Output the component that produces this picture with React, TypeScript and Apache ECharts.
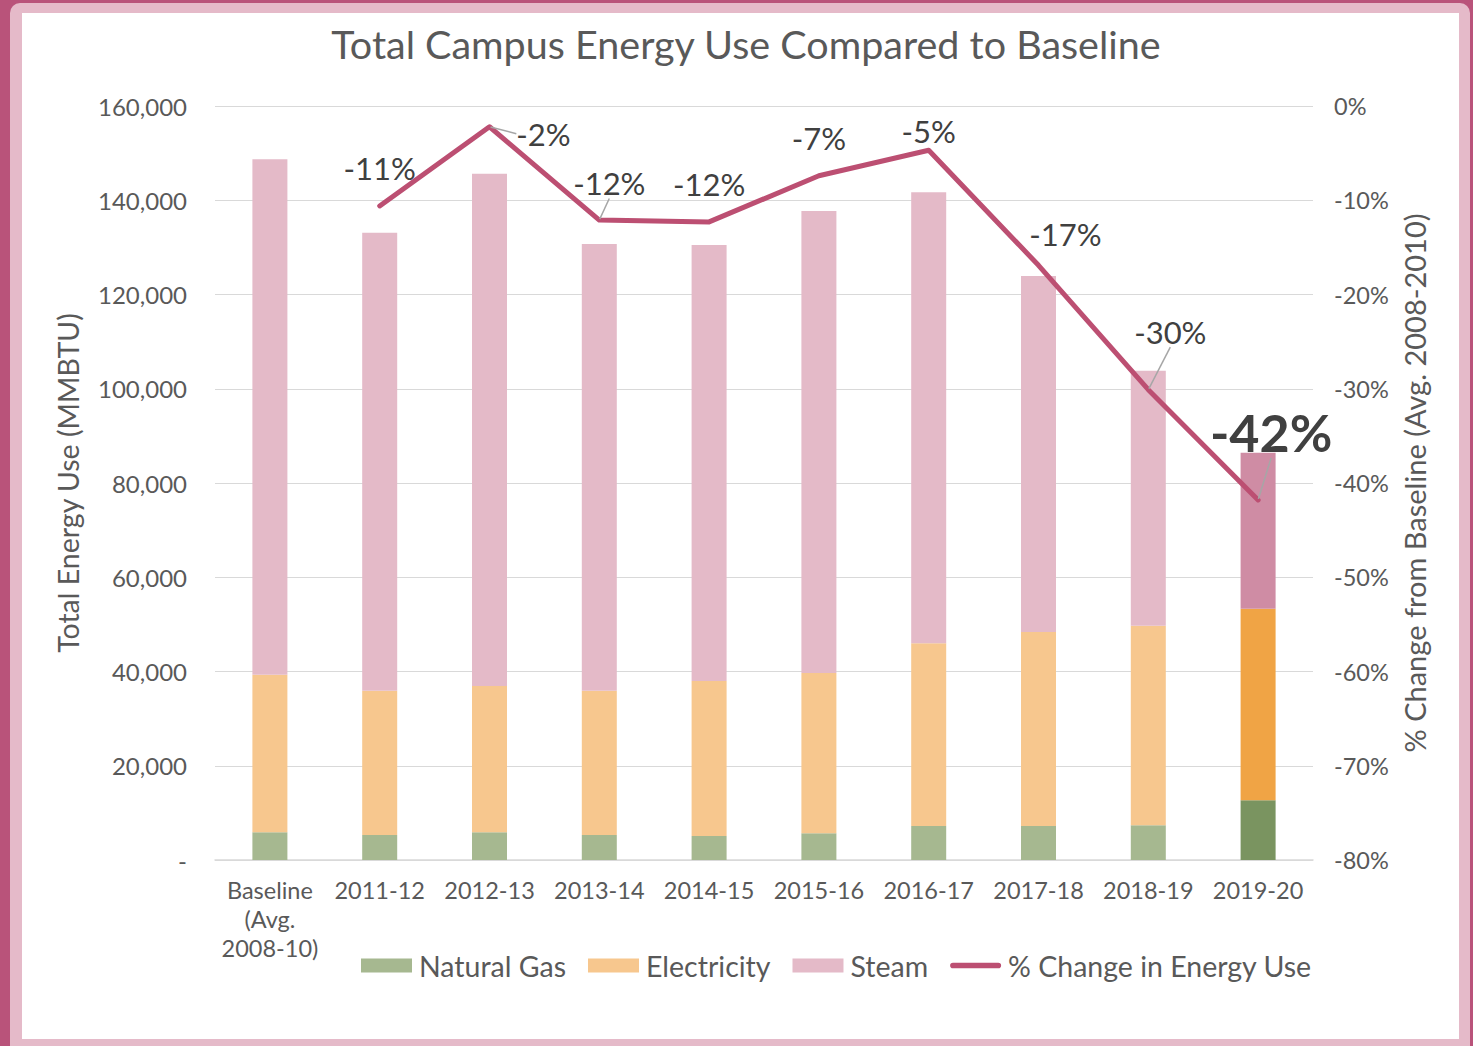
import React, { useEffect, useRef } from "react";
import * as echarts from "echarts";

const categories = [
  "Baseline\n(Avg.\n2008-10)",
  "2011-12",
  "2012-13",
  "2013-14",
  "2014-15",
  "2015-16",
  "2016-17",
  "2017-18",
  "2018-19",
  "2019-20",
];
const naturalGas = [5900, 5300, 5900, 5300, 5100, 5700, 7200, 7200, 7400, 12700];
const electricity = [33400, 30600, 31000, 30600, 32900, 34000, 38800, 41200, 42300, 40600];
const steam = [109400, 97200, 108700, 94800, 92500, 98000, 95700, 75500, 54100, 33100];
const pctChange = [null, -10.6, -2.2, -12.1, -12.3, -7.4, -4.7, -16.9, -30.1, -41.8];

const leftTicks = { min: 0, max: 160000, interval: 20000 };
const rightTicks = { min: -80, max: 0, interval: 10 };

// label placement (center offset from point, px) and guide-line visibility
const labelOffsets = [
  [0, 0],
  [0, -38],
  [54, 7],
  [10, -37],
  [0, -38],
  [0, -38],
  [0, -19],
  [27, -31],
  [22, -58],
  [13, -68],
];
const showGuide = [false, false, true, true, false, false, false, false, true, true];

const FONT = "Lato, 'Noto Sans', sans-serif";
const TXT = "#595959";
const colors = {
  gas: "#a6b890",
  gasDark: "#7a9460",
  elec: "#f7c78e",
  elecDark: "#f0a445",
  steam: "#e4bac8",
  steamDark: "#cf8ca4",
  line: "#bc4f72",
  grid: "#d9d9d9",
};

function barData(values: number[], normal: string, dark: string) {
  return values.map((v, i) => ({
    value: v,
    itemStyle: { color: i === values.length - 1 ? dark : normal },
  }));
}

export default function App() {
  const ref = useRef<HTMLDivElement>(null);

  useEffect(() => {
    if (!ref.current) return;
    const chart = echarts.init(ref.current, null, { renderer: "svg" });
    const last = pctChange.length - 1;
    chart.setOption({
      animation: false,
      textStyle: { fontFamily: FONT },
      title: {
        text: "Total Campus Energy Use Compared to Baseline",
        left: 741,
        textAlign: "center",
        top: 18,
        textStyle: { fontFamily: FONT, fontSize: 39.5, fontWeight: "normal", color: TXT },
      },
      grid: { left: 215, right: 160, top: 106, bottom: 186 },
      legend: {
        left: 361,
        top: 951,
        padding: 0,
        itemWidth: 51,
        itemHeight: 14,
        itemGap: 22,
        textStyle: { fontFamily: FONT, fontSize: 28.5, color: TXT, padding: [0, 0, 0, 2] },
        data: [
          { name: "Natural Gas", icon: "rect" },
          { name: "Electricity", icon: "rect" },
          { name: "Steam", icon: "rect" },
          {
            name: "% Change in Energy Use",
            icon: "path://M3,0 H51 A3,3 0 0 1 51,6 H3 A3,3 0 0 1 3,0 Z",
          },
        ],
      },
      xAxis: {
        type: "category",
        data: categories,
        axisTick: { show: false },
        axisLine: { lineStyle: { color: colors.grid, width: 1.5 } },
        axisLabel: {
          interval: 0,
          fontFamily: FONT,
          fontSize: 23.5,
          lineHeight: 29,
          color: TXT,
          margin: 15,
        },
      },
      yAxis: [
        {
          type: "value",
          ...leftTicks,
          name: "Total Energy Use (MMBTU)",
          nameLocation: "middle",
          nameGap: 133,
          nameTextStyle: { fontFamily: FONT, fontSize: 28.5, color: TXT },
          axisLabel: {
            fontFamily: FONT,
            fontSize: 24,
            color: TXT,
            margin: 28,
            formatter: (v: number) => (v === 0 ? "-" : v.toLocaleString("en-US")),
          },
          splitLine: { lineStyle: { color: colors.grid, width: 1.2 } },
        },
        {
          type: "value",
          ...rightTicks,
          name: "% Change from Baseline (Avg. 2008-2010)",
          nameLocation: "middle",
          nameGap: 87,
          nameRotate: 90,
          nameTextStyle: { fontFamily: FONT, fontSize: 29, color: TXT },
          axisLabel: {
            fontFamily: FONT,
            fontSize: 23.5,
            color: TXT,
            margin: 21,
            formatter: (v: number) => `${v}%`,
          },
          splitLine: { show: false },
        },
      ],
      series: [
        {
          name: "Natural Gas",
          type: "bar",
          stack: "energy",
          barWidth: 35,
          color: colors.gas,
          data: barData(naturalGas, colors.gas, colors.gasDark),
        },
        {
          name: "Electricity",
          type: "bar",
          stack: "energy",
          barWidth: 35,
          color: colors.elec,
          data: barData(electricity, colors.elec, colors.elecDark),
        },
        {
          name: "Steam",
          type: "bar",
          stack: "energy",
          barWidth: 35,
          color: colors.steam,
          data: barData(steam, colors.steam, colors.steamDark),
        },
        {
          name: "% Change in Energy Use",
          type: "line",
          yAxisIndex: 1,
          color: colors.line,
          symbol: "circle",
          symbolSize: 2,
          showSymbol: true,
          lineStyle: { width: 5, color: colors.line, cap: "round", join: "round" },
          itemStyle: { color: colors.line },
          data: pctChange.map((v, i) => ({
            value: v,
            label: {
              show: v !== null,
              position: "inside",
              formatter: () => `${Math.round(v as number)}%`,
              fontFamily: FONT,
              fontSize: i === last ? 52 : 31,
              fontWeight: i === last ? "bold" : "normal",
              color: "#404040",
            },
            labelLine: {
              show: showGuide[i],
              length2: 0,
              lineStyle: { color: "#a6a6a6", width: 1.5 },
            },
          })),
          labelLayout: (params: any) => {
            const o = labelOffsets[params.dataIndex] || [0, 0];
            return { dx: o[0], dy: o[1] };
          },
          z: 5,
        },
      ],
    });
    return () => chart.dispose();
  }, []);

  return (
    <div
      style={{
        position: "fixed",
        left: 0,
        top: 0,
        width: 1473,
        height: 1046,
        background: "#b9537a",
        overflow: "hidden",
      }}
    >
      <div
        style={{
          position: "absolute",
          left: 10,
          top: 3,
          width: 1460,
          height: 1060,
          background: "#e5bac9",
          borderRadius: 10,
        }}
      />
      <div
        style={{
          position: "absolute",
          left: 22,
          top: 13,
          width: 1437,
          height: 1026,
          background: "#ffffff",
        }}
      />
      <div
        ref={ref}
        style={{ position: "absolute", left: 0, top: 0, width: 1473, height: 1046 }}
      />
    </div>
  );
}
